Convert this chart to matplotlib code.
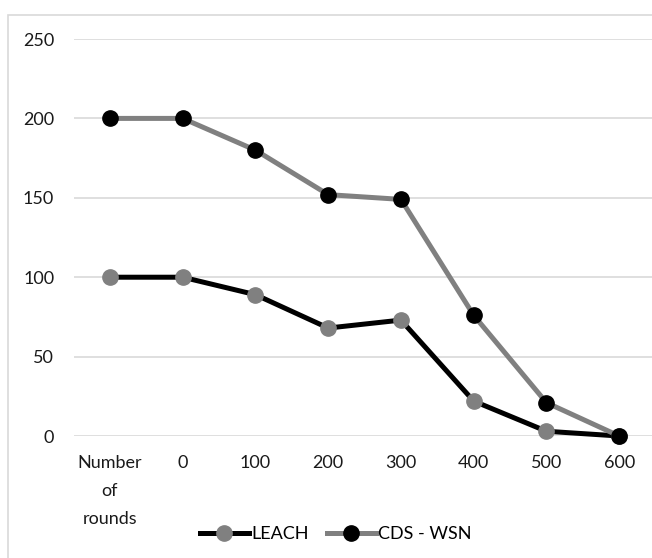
"""Alive nodes per round for LEACH and CDS-WSN, Excel-style line chart."""

import matplotlib

matplotlib.use("Agg")
import matplotlib.pyplot as plt
from matplotlib.lines import Line2D
from matplotlib.patches import Rectangle

categories = ["Number\nof\nrounds", "0", "100", "200", "300", "400", "500", "600"]
leach = [100, 100, 89, 68, 73, 22, 3, 0]
cds_wsn = [200, 200, 180, 152, 149, 76, 21, 0]
y_ticks = [0, 50, 100, 150, 200, 250]

GREY = "#808080"
GRID = "#d9d9d9"
TEXT = "#1a1a1a"
LINE_WIDTH = 3.6
MARKER_SIZE = 11

plt.rcParams["font.family"] = ["Lato", "DejaVu Sans"]

figure = plt.figure(figsize=(6.52, 5.58), dpi=100)
axes = figure.add_axes([0.1129, 0.2186, 0.8926, 0.7115])

# chart border, runs off the right and bottom like the reference crop
figure.patches.append(
    Rectangle((8 / 652, -0.05), 1.2, 1 - 15 / 558 + 0.05,
              transform=figure.transFigure, fill=False,
              edgecolor=GRID, linewidth=1.2)
)

positions = list(range(len(categories)))
axes.plot(positions, leach, color="black", linewidth=LINE_WIDTH, marker="o",
          markersize=MARKER_SIZE, markerfacecolor=GREY, markeredgecolor=GREY,
          zorder=3, clip_on=False)
axes.plot(positions, cds_wsn, color=GREY, linewidth=LINE_WIDTH, marker="o",
          markersize=MARKER_SIZE, markerfacecolor="black",
          markeredgecolor="black", zorder=3, clip_on=False)

axes.set_xlim(-0.5, len(categories) - 0.5)
axes.set_ylim(0, 250)
axes.set_yticks(y_ticks)
axes.set_xticks(positions)
axes.set_xticklabels(categories, linespacing=1.9, va="top")
axes.tick_params(axis="both", length=0, labelsize=13, colors=TEXT)
axes.tick_params(axis="y", pad=14)
axes.tick_params(axis="x", pad=14)
axes.grid(axis="y", color=GRID, linewidth=1.2)
axes.set_axisbelow(True)
for spine in axes.spines.values():
    spine.set_visible(False)

handles = [
    Line2D([], [], color="black", linewidth=LINE_WIDTH, marker="o",
           markersize=MARKER_SIZE, markerfacecolor=GREY, markeredgecolor=GREY),
    Line2D([], [], color=GREY, linewidth=LINE_WIDTH, marker="o",
           markersize=MARKER_SIZE, markerfacecolor="black",
           markeredgecolor="black"),
]
figure.legend(handles, ["LEACH", "CDS - WSN"], loc="center",
              bbox_to_anchor=(0.515, 0.043), ncol=2, frameon=False,
              fontsize=13, handlelength=2.7, handletextpad=0.15,
              columnspacing=1.0)

figure.savefig("out.png", dpi=100)
plt.close(figure)
